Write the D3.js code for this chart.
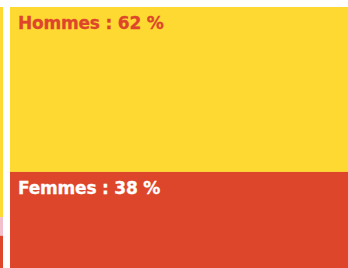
<!DOCTYPE html>
<html>
<head>
<meta charset="utf-8">
<script src="https://cdn.jsdelivr.net/npm/d3@7"></script>
<style>
  body { margin: 0; background: #fff; }
  svg { display: block; }
</style>
</head>
<body>
<svg></svg>
<script>
let width = 348,
    height = 268;

// columns of the mekko (the first one is only partly visible on the left)
let columns = ["avant", "sexe"];
let groups = ["haut", "milieu", "bas"];
// shares in % per column, top to bottom
let avantValues = [79, 7, 14];
let sexeValues = [62, 0, 38];
let sexeLabels = ["Hommes", "", "Femmes"];

let colors = ["#fdd932", "#f2bfcc", "#dd462a"];
let labelColors = ["#dd462a", "#fff", "#fff"];

let svg = d3.select("svg")
    .attr("width", width)
    .attr("height", height);

let x = d3.scaleBand()
    .domain(columns)
    .range([-335, 348])
    .paddingInner(7 / 345);

let y = d3.scaleLinear()
    .domain([0, 100])
    .range([7, 273]);

let table = [avantValues, sexeValues];

columns.forEach((col, ci) => {
    let stack = [];
    let acc = 0;
    table[ci].forEach((v, gi) => {
        stack.push({ col: col, group: groups[gi], gi: gi, y0: acc, y1: acc + v, value: v,
            label: ci == 1 ? sexeLabels[gi] : "" });
        acc += v;
    });

    let g = svg.append("g").attr("class", "col-" + col);

    g.selectAll("rect")
        .data(stack.filter(d => d.value > 0))
        .enter()
        .append("rect")
        .attr("x", x(col))
        .attr("width", x.bandwidth())
        .attr("y", d => y(d.y0))
        .attr("height", d => y(d.y1) - y(d.y0))
        .attr("fill", d => colors[d.gi]);

    g.selectAll("text")
        .data(stack.filter(d => d.label != ""))
        .enter()
        .append("text")
        .attr("x", x(col) + 8)
        .attr("y", d => y(d.y0) + 22)
        .attr("fill", d => labelColors[d.gi])
        .attr("stroke", d => labelColors[d.gi])
        .attr("stroke-width", 0.3)
        .style("font-family", "'DejaVu Sans', sans-serif")
        .style("font-weight", "bold")
        .style("font-size", "17px")
        .style("letter-spacing", "-0.2px")
        .style("white-space", "pre")
        .text(d => d.label + " : " + d.value + " %");
});
</script>
</body>
</html>
